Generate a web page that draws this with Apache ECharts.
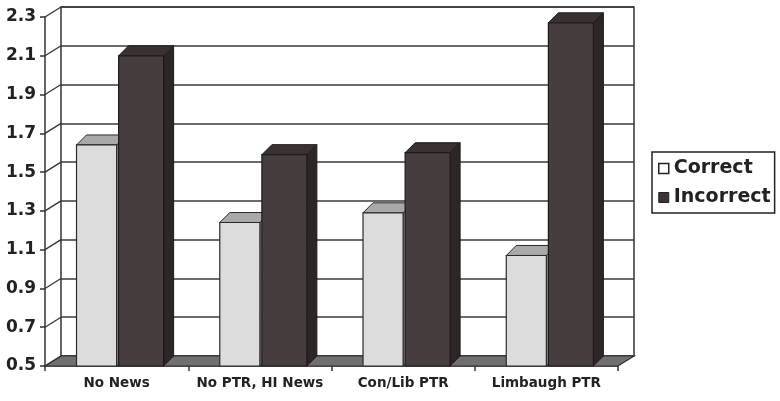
<!DOCTYPE html>
<html>
<head>
<meta charset="utf-8">
<script src="https://cdn.jsdelivr.net/npm/echarts@6/dist/echarts.min.js"></script>
<style>
html,body{margin:0;padding:0;background:#fff;}
#chart{width:780px;height:401px;}
</style>
</head>
<body>
<div id="chart"></div>
<script>
// ---- data ----
const categories = ['No News', 'No PTR, HI News', 'Con/Lib PTR', 'Limbaugh PTR'];
const seriesNames = ['Correct', 'Incorrect'];
const correctValues = [1.64, 1.24, 1.29, 1.07];
const incorrectValues = [2.10, 1.59, 1.60, 2.27];
const yTicks = [0.5, 0.7, 0.9, 1.1, 1.3, 1.5, 1.7, 1.9, 2.1, 2.3];

// ---- styling / layout ----
const Y_MIN = 0.5, Y_MAX = 2.3, Y_STEP = 0.2;
const WALL_DX = 16, WALL_DY = -10;   // depth of the 3D box
const BAR_DX = 10, BAR_DY = -10;     // depth of each bar
const FONT = 'DejaVu Sans';
const INK = '#222';

function barRenderer(offL, offR, front, topC, sideC, stroke) {
  return function (params, api) {
    const cat = api.value(0), v = api.value(1);
    const top = api.coord([cat, v]);
    const base = api.coord([cat, Y_MIN]);
    const band = api.size([1, 0])[0];
    const x0 = top[0] + offL * band, x1 = top[0] + offR * band;
    const yt = top[1], yb = base[1];
    return {
      type: 'group',
      children: [
        { type: 'polygon', shape: { points: [[x1, yt], [x1 + BAR_DX, yt + BAR_DY], [x1 + BAR_DX, yb + BAR_DY], [x1, yb]] },
          style: { fill: sideC, stroke: stroke, lineWidth: 1 } },
        { type: 'polygon', shape: { points: [[x0, yt], [x1, yt], [x1 + BAR_DX, yt + BAR_DY], [x0 + BAR_DX, yt + BAR_DY]] },
          style: { fill: topC, stroke: stroke, lineWidth: 1 } },
        { type: 'rect', shape: { x: x0, y: yt, width: x1 - x0, height: yb - yt },
          style: { fill: front, stroke: stroke, lineWidth: 1.2 } }
      ]
    };
  };
}

const chart = echarts.init(document.getElementById('chart'), null, { renderer: 'canvas' });

const option = {
  animation: false,
  backgroundColor: '#fff',
  grid: [
    { left: 45, right: 162, top: 17, bottom: 35 },                     // front plane
    { left: 45 + WALL_DX, right: 162 - WALL_DX, top: 17 + WALL_DY, bottom: 35 - WALL_DY,
      show: true, borderColor: '#333', borderWidth: 1.5, backgroundColor: 'transparent' } // back wall
  ],
  xAxis: [
    { type: 'category', gridIndex: 0, data: categories, boundaryGap: true,
      axisLine: { show: true, lineStyle: { color: '#333', width: 1.5 } },
      axisTick: { show: true, interval: 0, length: 5, inside: false, lineStyle: { color: '#333', width: 1.5 } },
      axisLabel: { interval: 0, fontFamily: FONT, fontWeight: 'bold', fontSize: 13.5, color: INK, margin: 10 },
      splitLine: { show: false } },
    { type: 'category', gridIndex: 1, data: categories, show: false }
  ],
  yAxis: [
    { type: 'value', gridIndex: 0, min: Y_MIN, max: Y_MAX, interval: Y_STEP,
      axisLine: { show: true, lineStyle: { color: '#333', width: 1.5 } },
      axisTick: { show: true, length: 5, lineStyle: { color: '#333', width: 1.5 } },
      axisLabel: { fontFamily: FONT, fontWeight: 'bold', fontSize: 17, color: INK, margin: 9,
        formatter: v => v.toFixed(1) },
      splitLine: { show: false } },
    { type: 'value', gridIndex: 1, min: Y_MIN, max: Y_MAX, interval: Y_STEP,
      axisLine: { show: false }, axisTick: { show: false }, axisLabel: { show: false },
      splitLine: { show: true, lineStyle: { color: '#3a3a3a', width: 1.5 } } }
  ],
  legend: {
    orient: 'vertical', left: 652, top: 152,
    borderColor: '#222', borderWidth: 1.5, padding: [7, 4, 6, 6],
    itemGap: 10, itemWidth: 10, itemHeight: 10, itemTextGap: 4,
    textStyle: { fontFamily: FONT, fontWeight: 'bold', fontSize: 19, color: INK },
    data: [
      { name: seriesNames[0], icon: 'rect', itemStyle: { color: '#fff', borderColor: '#222', borderWidth: 1.5 } },
      { name: seriesNames[1], icon: 'rect', itemStyle: { color: '#3d3535', borderColor: '#222', borderWidth: 1 } }
    ]
  },
  series: [
    { // floor of the 3D box
      type: 'custom', xAxisIndex: 0, yAxisIndex: 0, z: 1, silent: true,
      data: [[0, Y_MIN]],
      renderItem: function (params, api) {
        const cs = params.coordSys;
        const yb = api.coord([0, Y_MIN])[1];
        return { type: 'polygon',
          shape: { points: [[cs.x, yb], [cs.x + cs.width, yb], [cs.x + cs.width + WALL_DX, yb + WALL_DY], [cs.x + WALL_DX, yb + WALL_DY]] },
          style: { fill: '#707070', stroke: '#333', lineWidth: 1.2 } };
      }
    },
    { // left side wall connectors
      type: 'custom', xAxisIndex: 0, yAxisIndex: 0, z: 1, silent: true,
      data: yTicks.map(t => [0, t]),
      renderItem: function (params, api) {
        const cs = params.coordSys;
        const y = api.coord([0, api.value(1)])[1];
        return { type: 'line', shape: { x1: cs.x, y1: y, x2: cs.x + WALL_DX, y2: y + WALL_DY },
          style: { stroke: '#333', lineWidth: 1.3 } };
      }
    },
    {
      name: seriesNames[0], type: 'custom', xAxisIndex: 0, yAxisIndex: 0, z: 3,
      itemStyle: { color: '#fff', borderColor: '#222' },
      data: correctValues.map((v, i) => [i, v]),
      renderItem: barRenderer(-0.28, 0.0, '#dcdcdc', '#a9a9a9', '#9a9a9a', '#2a2a2a')
    },
    {
      name: seriesNames[1], type: 'custom', xAxisIndex: 0, yAxisIndex: 0, z: 4,
      itemStyle: { color: '#3d3535' },
      data: incorrectValues.map((v, i) => [i, v]),
      renderItem: barRenderer(0.014, 0.328, '#463e3e', '#3a3232', '#2c2626', '#1e1a1a')
    }
  ]
};
chart.setOption(option);
</script>
</body>
</html>
